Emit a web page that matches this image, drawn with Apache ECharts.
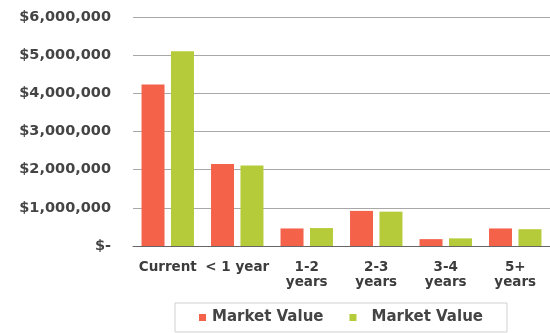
<!DOCTYPE html>
<html>
<head>
<meta charset="utf-8">
<script src="https://cdn.jsdelivr.net/npm/echarts@6/dist/echarts.min.js"></script>
<style>
  html, body { margin: 0; padding: 0; background: #fff; }
  #chart { width: 550px; height: 333px; }
</style>
</head>
<body>
<div id="chart"></div>
<script>
// Aging buckets and market values (USD)
const categories = ['Current', '< 1 year', '1-2\nyears', '2-3\nyears', '3-4\nyears', '5+\nyears'];
const seriesNames = ['Market Value', 'Market Value '];
const marketValueA = [4230000, 2150000, 460000, 920000, 180000, 460000];
const marketValueB = [5100000, 2110000, 470000, 900000, 200000, 440000];
const yTicks = [0, 1000000, 2000000, 3000000, 4000000, 5000000, 6000000];

const colors = ['#F4624A', '#B6CB3A'];
const font = 'DejaVu Sans, Verdana, sans-serif';

function money(v) {
  if (v === 0) return '$-';
  return '$' + v.toLocaleString('en-US');
}

const chart = echarts.init(document.getElementById('chart'), null, { renderer: 'canvas' });
chart.setOption({
  animation: false,
  textStyle: { fontFamily: font },
  grid: { left: 133, right: 0, top: 17, bottom: 87, containLabel: false },
  legend: {
    bottom: 1,
    left: 175,
    padding: [7, 24, 7, 24],
    itemGap: 26,
    itemWidth: 7,
    itemHeight: 7,
    icon: 'rect',
    borderColor: '#d0d0d0',
    borderWidth: 1,
    formatter: name => name.trim(),
    textStyle: { fontSize: 15, fontWeight: 'bold', color: '#444', fontFamily: font },
    data: [
      { name: seriesNames[0], textStyle: { padding: [0, 0, 0, 1] } },
      { name: seriesNames[1], textStyle: { padding: [0, 0, 0, 10] } }
    ]
  },
  xAxis: {
    type: 'category',
    data: categories,
    axisLine: { lineStyle: { color: '#666', width: 1 } },
    axisTick: { show: false },
    axisLabel: {
      color: '#3c3c3c', fontSize: 13.5, fontWeight: 'bold', fontFamily: font,
      margin: 14, lineHeight: 15, interval: 0
    }
  },
  yAxis: {
    type: 'value',
    min: yTicks[0],
    max: yTicks[yTicks.length - 1],
    interval: 1000000,
    axisLine: { show: false },
    axisTick: { show: false },
    splitLine: { lineStyle: { color: '#a8a8a8', width: 1 } },
    axisLabel: {
      color: '#444', fontSize: 14.5, fontWeight: 'bold', fontFamily: font,
      margin: 22, formatter: money
    }
  },
  series: [
    {
      name: seriesNames[0],
      type: 'bar',
      data: marketValueA,
      barWidth: 23,
      barGap: '28%',
      itemStyle: { color: colors[0] }
    },
    {
      name: seriesNames[1],
      type: 'bar',
      data: marketValueB,
      barWidth: 23,
      barGap: '28%',
      itemStyle: { color: colors[1] }
    }
  ]
});
</script>
</body>
</html>
